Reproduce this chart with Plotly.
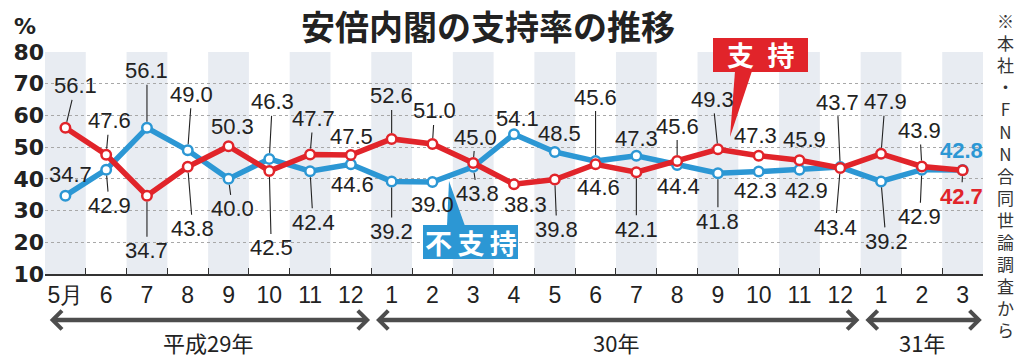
import plotly.graph_objects as go

# ---------------- data ----------------
month_labels = ["5月", "6", "7", "8", "9", "10", "11", "12",
                "1", "2", "3", "4", "5", "6", "7", "8", "9", "10", "11", "12",
                "1", "2", "3"]
years = [2017] * 8 + [2018] * 12 + [2019] * 3
support = [56.1, 47.6, 34.7, 43.8, 50.3, 42.5, 47.7, 47.5,
           52.6, 51.0, 45.0, 38.3, 39.8, 44.6, 42.1, 45.6, 49.3, 47.3, 45.9, 43.4,
           47.9, 43.9, 42.7]
nonsupport = [34.7, 42.9, 56.1, 49.0, 40.0, 46.3, 42.4, 44.6,
              39.2, 39.0, 43.8, 54.1, 48.5, 45.6, 47.3, 44.4, 41.8, 42.3, 42.9, 43.7,
              39.2, 42.9, 42.8]
period_names = ["平成29年", "30年", "31年"]
period_lengths = [8, 12, 3]
title_text = "安倍内閣の支持率の推移"
source_text = "※本社・FNN合同世論調査から"

# ---------------- label placement (pixel offsets from the point) ----------------
sup_dx = [10, 3, 0, 5, 4, 2, 3, 1, 0, 2, 2, 11, 2, 3, 0, 0, -5, -3, 5, -5, 4, -2, -1]
sup_dy = [-42, -34, 55, 62, -20, 77, -36, -19, -43, -33, -26, 20, 50, 23, 57, -35, -50, -20, -21, 59, -52, -36, 26]
sup_lead = [1, 1, 1, 1, 0, 1, 1, 1, 1, 1, 1, 0, 1, 0, 1, 1, 1, 0, 0, 1, 1, 1, 1]
non_dx = [5, 3, 0, 4, 4, 3, 3, 2, 0, 0, 4, 3, 5, 0, 0, 1, 0, -3, 7, -3, 5, -2, -1]
non_dy = [-21, 36, -57, -56, 30, -57, 51, 20, 50, 22, 27, -16, -18, -64, -17, 22, 48, 19, 21, -65, 60, 47, -19]
non_lead = [0, 1, 1, 1, 1, 1, 1, 0, 1, 0, 1, 0, 0, 1, 0, 0, 1, 0, 0, 1, 1, 1, 0]

RED = "#e1242a"
BLUE = "#2c97d4"
STRIPE = "#e8ecf2"
NUM_FONT = "Liberation Sans, Arial, sans-serif"
CJK_FONT = "Noto Sans CJK JP, sans-serif"

# page body has an 8px margin: figure is drawn at (8, 8)
W, H = 1016, 350
PL, PT, PW, PH = 45, 52, 938, 222   # plot area in page pixels

keys = [f"{y}-{i}" for i, y in enumerate(years)]
n = len(keys)

fig = go.Figure()
fig.add_trace(go.Scatter(
    x=keys, y=nonsupport, mode="lines+markers", name="不支持",
    line=dict(color=BLUE, width=5.5),
    marker=dict(size=9.5, color="white", line=dict(color=BLUE, width=2.5)),
    hoverinfo="skip"))
fig.add_trace(go.Scatter(
    x=keys, y=support, mode="lines+markers", name="支持",
    line=dict(color=RED, width=5.5),
    marker=dict(size=9.5, color="white", line=dict(color=RED, width=2.5)),
    hoverinfo="skip"))

shapes = []
for i in range(0, n, 2):
    shapes.append(dict(type="rect", xref="x", yref="paper", x0=i - 0.5, x1=i + 0.5,
                       y0=0, y1=1, fillcolor=STRIPE, line=dict(width=0), layer="below"))

annotations = []


def add_labels(vals, dxs, dys, leads, last_color):
    for i, v in enumerate(vals):
        last = i == n - 1
        annotations.append(dict(
            x=keys[i], y=v, xref="x", yref="y", text=f"{v:.1f}",
            showarrow=True, arrowhead=0, arrowwidth=1.1,
            arrowcolor="#222" if leads[i] else "rgba(0,0,0,0)",
            standoff=6, ax=dxs[i], ay=dys[i],
            font=dict(family=NUM_FONT, size=22, color=last_color if last else "#222",
                      weight="bold" if last else "normal")))


add_labels(support, sup_dx, sup_dy, sup_lead, RED)
add_labels(nonsupport, non_dx, non_dy, non_lead, BLUE)


def px2x(px):
    return (px - PL) / PW


def py2y(py):
    return (PT + PH - py) / PH


def txt(x, y, text, font, xref="paper", yref="paper"):
    return dict(x=x, y=y, xref=xref, yref=yref, text=text, showarrow=False,
                xanchor="center", yanchor="middle", font=font)


# period arrows and labels
start = 0
for name, ln in zip(period_names, period_lengths):
    b0 = start - 0.5
    b1 = start + ln - 0.5
    annotations.append(dict(
        x=b1 - 0.03, y=py2y(320), xref="x", yref="paper",
        ax=b0 + 0.08, ay=0, axref="x", ayref="pixel",
        text="", showarrow=True, arrowhead=4, arrowside="end+start",
        arrowwidth=4.5, arrowsize=0.8, arrowcolor="#4d4d4d"))
    annotations.append(txt((b0 + b1) / 2, py2y(342), name,
                           dict(family=CJK_FONT, size=22, color="#222"), xref="x"))
    start += ln

# percent sign
annotations.append(txt(px2x(25), py2y(26), "%",
                       dict(family="DejaVu Sans", size=22, color="#222", weight="bold")))

# vertical source note (one character per line)
annotations.append(txt(px2x(1005), py2y(175), "<br>".join(source_text),
                       dict(family=CJK_FONT, size=17, color="#333")))

# callout boxes
shapes.append(dict(type="rect", xref="paper", yref="paper",
                   x0=px2x(713), x1=px2x(808), y0=py2y(72), y1=py2y(38),
                   fillcolor=RED, line=dict(width=0), layer="above"))
shapes.append(dict(type="path", xref="paper", yref="paper",
                   path=f"M{px2x(735)},{py2y(71)} L{px2x(730)},{py2y(137)} L{px2x(752)},{py2y(71)} Z",
                   fillcolor=RED, line=dict(width=0), layer="above"))
annotations.append(txt(px2x(760.5), py2y(55), "支\u2002持",
                       dict(family=CJK_FONT, size=27, color="white", weight="bold")))

shapes.append(dict(type="rect", xref="paper", yref="paper",
                   x0=px2x(423), x1=px2x(518), y0=py2y(259), y1=py2y(225),
                   fillcolor=BLUE, line=dict(width=0), layer="above"))
shapes.append(dict(type="path", xref="paper", yref="paper",
                   path=f"M{px2x(449)},{py2y(181)} L{px2x(447)},{py2y(226)} L{px2x(465)},{py2y(226)} Z",
                   fillcolor=BLUE, line=dict(width=0), layer="above"))
annotations.append(txt(px2x(470.5), py2y(242), "不\u2009支\u2009持",
                       dict(family=CJK_FONT, size=27, color="white", weight="bold")))

fig.update_layout(
    width=W, height=H,
    margin=dict(l=PL - 8, r=W - (PL + PW - 8), t=PT - 8, b=H - (PT + PH - 8)),
    paper_bgcolor="white", plot_bgcolor="white",
    showlegend=False,
    title=dict(text=title_text, x=(488 - 8) / W, xref="container",
               y=1 - (28 - 8) / H, yref="container",
               xanchor="center", yanchor="middle",
               font=dict(family=CJK_FONT, size=34, color="#222", weight="bold")),
    xaxis=dict(type="category", categoryorder="array", categoryarray=keys,
               tickmode="array", tickvals=keys, ticktext=month_labels, tickangle=0,
               range=[-0.5, n - 0.5], showgrid=False, showline=True, automargin=False,
               linecolor="#333", linewidth=1.5, ticks="inside", tickson="boundaries",
               ticklen=6, tickcolor="#333", tickwidth=1.2,
               tickfont=dict(family=NUM_FONT, size=23, color="#222")),
    yaxis=dict(range=[10, 80], dtick=10, showgrid=True, gridcolor="#a8a8a8",
               griddash="dot", gridwidth=1.2, zeroline=False, showline=False,
               automargin=False, ticks="",
               tickfont=dict(family="DejaVu Sans", size=22, color="#222",
                             weight="bold")),
    shapes=shapes, annotations=annotations,
)

fig.write_html("out.html")
